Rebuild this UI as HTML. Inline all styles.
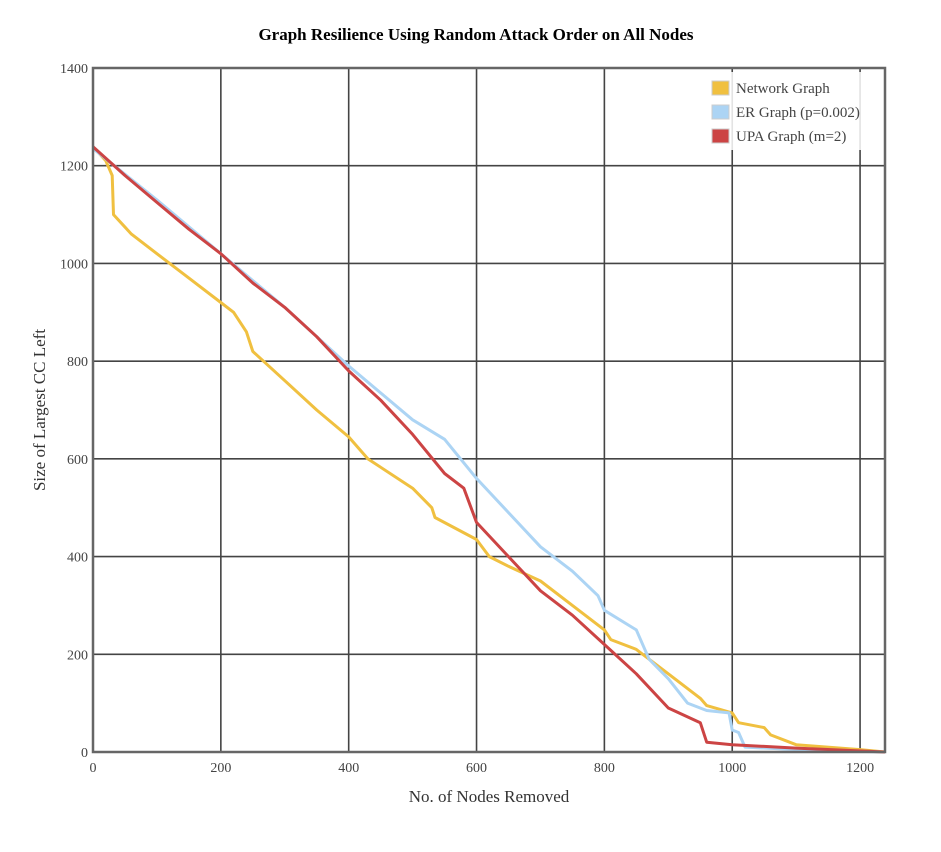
<!DOCTYPE html>
<html><head><meta charset="utf-8"><style>
body{margin:0;background:#fff;}
svg text{font-family:"Liberation Serif",serif;}
</style></head><body>
<svg id="c" width="941" height="847" xmlns="http://www.w3.org/2000/svg">
<text x="476" y="40" text-anchor="middle" font-size="17" font-weight="bold">Graph Resilience Using Random Attack Order on All Nodes</text>
<g id="grid"></g><g id="lines"></g><g id="axes"></g>
<text x="489" y="802" text-anchor="middle" font-size="17" fill="#333">No. of Nodes Removed</text>
<text transform="translate(45,410) rotate(-90)" text-anchor="middle" font-size="17" fill="#333">Size of Largest CC Left</text>
<g>
<rect x="706" y="72" width="172" height="78" fill="#fff" fill-opacity="0.85"/>
<g><rect x="712" y="81" width="17" height="14" fill="#f0c040" stroke="#ccc"/><text x="736" y="93" font-size="15" fill="#444">Network Graph</text></g>
<g><rect x="712" y="105" width="17" height="14" fill="#acd4f4" stroke="#ccc"/><text x="736" y="117" font-size="15" fill="#444">ER Graph (p=0.002)</text></g>
<g><rect x="712" y="129" width="17" height="14" fill="#cc4444" stroke="#ccc"/><text x="736" y="141" font-size="15" fill="#444">UPA Graph (m=2)</text></g>
</g>
</svg>
<script>
const xTicks=[0,200,400,600,800,1000,1200];
const yTicks=[0,200,400,600,800,1000,1200,1400];
const netX=[0,20,30,32,60,100,150,200,220,240,250,300,350,400,430,500,530,535,600,620,650,700,750,800,810,850,900,950,960,1000,1010,1050,1060,1100,1200,1239];
const netY=[1239,1210,1180,1100,1060,1020,970,920,900,860,820,760,700,645,600,540,500,480,435,400,380,350,300,250,230,210,160,110,95,80,60,50,35,15,5,0];
const erX=[0,100,200,300,400,500,550,600,650,700,750,790,800,850,870,900,930,960,995,1000,1010,1020,1100,1239];
const erY=[1235,1130,1020,910,790,680,640,560,490,420,370,320,290,250,190,150,100,85,80,45,40,10,5,0];
const upaX=[0,50,100,150,200,250,300,350,400,450,500,550,580,600,650,700,750,800,850,900,950,960,1000,1100,1239];
const upaY=[1239,1180,1125,1070,1020,960,910,850,780,720,650,570,540,470,400,330,280,220,160,90,60,20,15,8,0];
const X0=93,X1=885,XMAX=1239,Y0=752,Y1=68,YMAX=1400;
const sx=v=>X0+(X1-X0)*v/XMAX, sy=v=>Y0-(Y0-Y1)*v/YMAX;
const NS="http://www.w3.org/2000/svg";
function mk(t,a,p){const e=document.createElementNS(NS,t);for(const k in a)e.setAttribute(k,a[k]);document.getElementById(p).appendChild(e);return e;}
xTicks.forEach(v=>{
 const l=mk('line',{x1:sx(v),x2:sx(v),y1:Y1,y2:Y0,stroke:'#444','stroke-width':1.6},'grid');
 
 
 const t=mk('text',{x:sx(v),y:Y0+20,'text-anchor':'middle','font-size':14,fill:'#444'},'axes');t.textContent=v;
 
 
});
yTicks.forEach(v=>{
 const l=mk('line',{x1:X0,x2:X1,y1:sy(v),y2:sy(v),stroke:'#444','stroke-width':1.6},'grid');
 
 
 const t=mk('text',{x:X0-5,y:sy(v)+5,'text-anchor':'end','font-size':14,fill:'#444'},'axes');t.textContent=v;
 
 
});
const fr=mk('rect',{x:X0,y:Y1,width:X1-X0,height:Y0-Y1,fill:'none',stroke:'#666','stroke-width':2.5},'axes');


[[netX,netY,'#f0c040','network-graph-line'],[erX,erY,'#acd4f4','er-graph-line'],[upaX,upaY,'#cc4444','upa-graph-line']].forEach(([xs,ys,c,n])=>{
 const d=xs.map((x,i)=>(i?'L':'M')+sx(x).toFixed(1)+','+sy(ys[i]).toFixed(1)).join('');
 const p=mk('path',{d:d,fill:'none',stroke:c,'stroke-width':3,'stroke-linejoin':'round'},'lines');
 
 
});
</script>
</body></html>
